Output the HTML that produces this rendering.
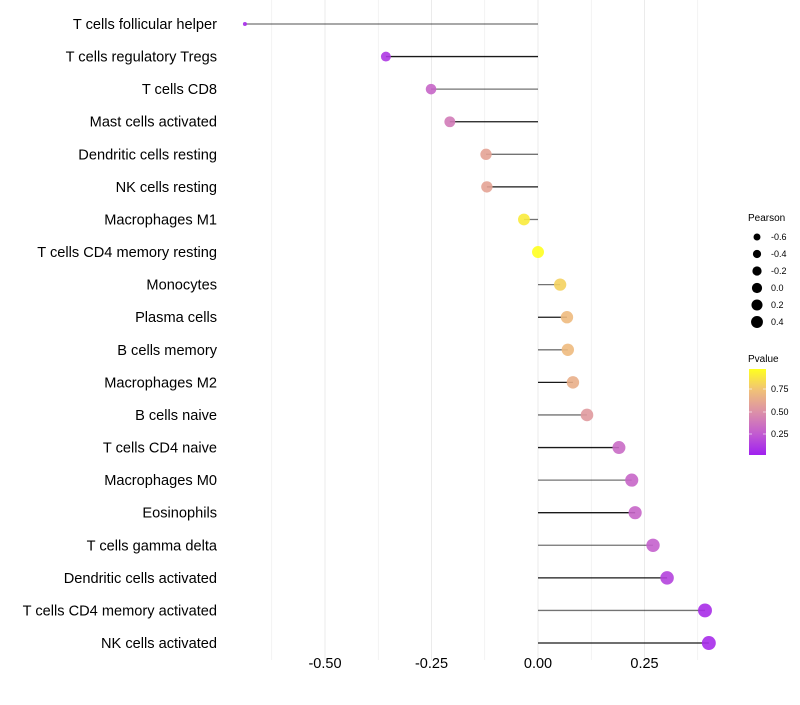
<!DOCTYPE html>
<html><head><meta charset="utf-8"><style>
body{margin:0;background:#fff;font-family:"Liberation Sans",sans-serif}
svg text{font-family:"Liberation Sans",sans-serif}
</style></head><body>
<svg id="chart" width="800" height="700" xmlns="http://www.w3.org/2000/svg">
<defs><linearGradient id="pg" x1="0" y1="1" x2="0" y2="0">
<stop offset="0" stop-color="#a020f0"/><stop offset="0.25" stop-color="#c25cd0"/><stop offset="0.5" stop-color="#dc90a8"/><stop offset="0.75" stop-color="#f0c078"/><stop offset="1" stop-color="#ffff20"/>
</linearGradient></defs>
<g id="grid"></g><g id="marks"></g><g id="labels"></g>
<g id="leg1">
<text x="748" y="221" font-size="10">Pearson</text>
</g>
<g>
<text x="748" y="362" font-size="10">Pvalue</text>
<rect x="749" y="369" width="17" height="86" fill="url(#pg)"/>
<line x1="749" y1="389" x2="752" y2="389" stroke="#fff" opacity="0.6"/><line x1="763" y1="389" x2="766" y2="389" stroke="#fff" opacity="0.6"/>
<line x1="749" y1="412" x2="752" y2="412" stroke="#fff" opacity="0.6"/><line x1="763" y1="412" x2="766" y2="412" stroke="#fff" opacity="0.6"/>
<line x1="749" y1="434" x2="752" y2="434" stroke="#fff" opacity="0.6"/><line x1="763" y1="434" x2="766" y2="434" stroke="#fff" opacity="0.6"/>
<text x="771" y="392" font-size="9">0.75</text><text x="771" y="415" font-size="9">0.50</text><text x="771" y="437" font-size="9">0.25</text>
</g>
</svg>
<script>
const categories=["T cells follicular helper","T cells regulatory  Tregs","T cells CD8","Mast cells activated","Dendritic cells resting","NK cells resting","Macrophages M1","T cells CD4 memory resting","Monocytes","Plasma cells","B cells memory","Macrophages M2","B cells naive","T cells CD4 naive","Macrophages M0","Eosinophils","T cells gamma delta","Dendritic cells activated","T cells CD4 memory activated","NK cells activated"];
const pearson=[-0.688,-0.357,-0.251,-0.207,-0.122,-0.12,-0.033,0.0,0.052,0.068,0.07,0.082,0.115,0.19,0.22,0.228,0.27,0.303,0.392,0.401];
const pvalue=[0.05,0.1,0.3,0.4,0.6,0.6,0.92,1.0,0.82,0.72,0.72,0.66,0.55,0.32,0.3,0.3,0.27,0.15,0.06,0.05];
const xTicks=[-0.5,-0.25,0,0.25];
const xTickLabels=["-0.50","-0.25","0.00","0.25"];
const legendVals=[-0.6,-0.4,-0.2,0.0,0.2,0.4];
const NS="http://www.w3.org/2000/svg";
const X=v=>538+v*426;
const Y=i=>24+i*32.58;
const R=v=>Math.sqrt(Math.max(4,v<-0.5?4:36+32*v));
function col(p){const s=[[0,[160,32,240]],[0.25,[194,92,208]],[0.5,[220,144,168]],[0.75,[240,192,120]],[1,[255,255,32]]];
 p=Math.max(0,Math.min(1,p));for(let k=1;k<s.length;k++){if(p<=s[k][0]){const t=(p-s[k-1][0])/(s[k][0]-s[k-1][0]);const a=s[k-1][1],b=s[k][1];return`rgb(${a.map((c,j)=>Math.round(c+(b[j]-c)*t)).join(",")})`;}}return"rgb(255,255,32)";}
function mk(t,a,parent){const e=document.createElementNS(NS,t);for(const k in a)e.setAttribute(k,a[k]);parent.appendChild(e);return e;}
const grid=document.getElementById("grid"),marks=document.getElementById("marks"),labels=document.getElementById("labels");
for(let g=-0.625;g<=0.376;g+=0.125){const l=mk("line",{x1:X(g),x2:X(g),y1:0,y2:660,stroke:"#ebebeb","stroke-width":Math.abs((g*4)%1)<1e-6?1:0.6},grid);

}
xTicks.forEach((v,i)=>{const t=mk("text",{x:X(v),y:668,"font-size":14.5,"text-anchor":"middle",fill:"#000"},labels);t.textContent=xTickLabels[i];

});
categories.forEach((c,i)=>{
 const t=mk("text",{x:217,y:Y(i)+5,"font-size":14.6,"text-anchor":"end",fill:"#000"},labels);t.textContent=c;
 
 
 const l=mk("line",{x1:X(0),x2:X(pearson[i]),y1:Y(i),y2:Y(i),stroke:"#000","stroke-opacity":i%2?0.9:0.55,"stroke-width":1.3},marks);
 
 
 const p=mk("circle",{cx:X(pearson[i]),cy:Y(i),r:R(pearson[i]),fill:col(pvalue[i]),"fill-opacity":0.9},marks);
 
 
});
const leg=document.getElementById("leg1");
legendVals.forEach((v,i)=>{const y=237+i*17;
 const c=mk("circle",{cx:757,cy:y,r:Math.sqrt(36+32*v)*0.85,fill:"#000"},leg);
 
 
 const t=mk("text",{x:771,y:y+3,"font-size":9},leg);t.textContent=v.toFixed(1);
 
 });
</script>
</body></html>
